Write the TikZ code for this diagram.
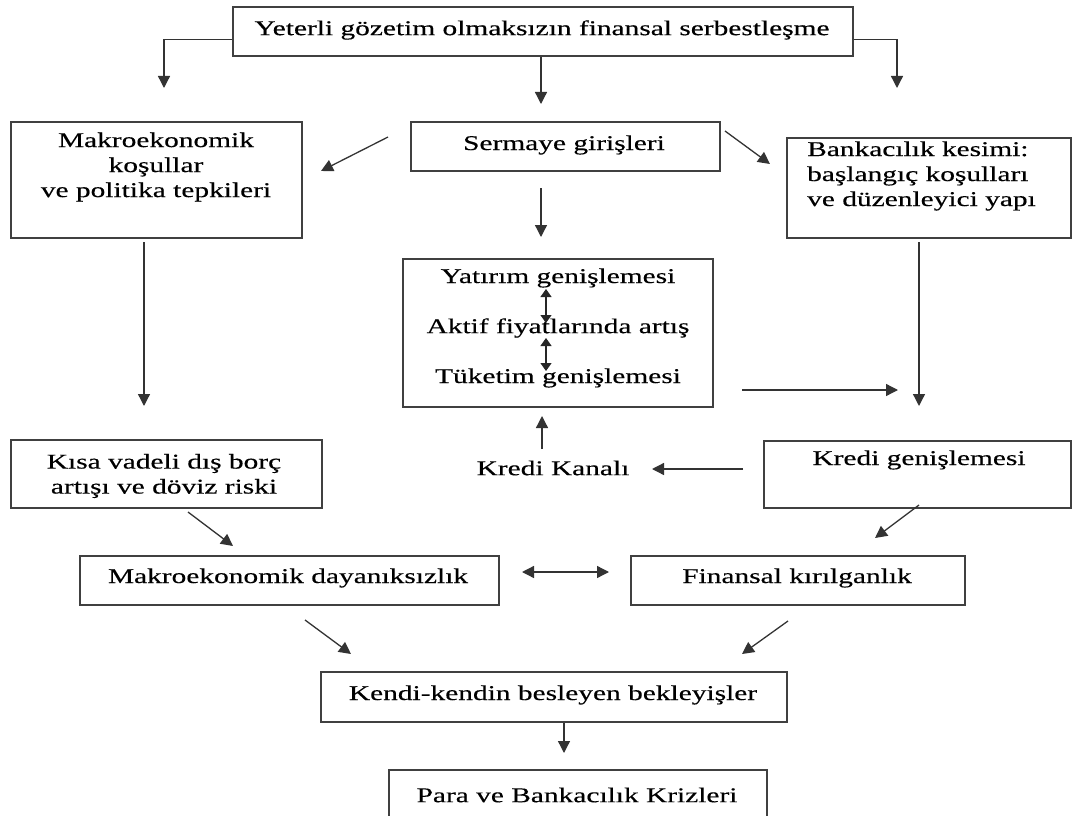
\documentclass[tikz,border=0pt]{standalone}
\usepackage{fontspec}
\setmainfont[FakeStretch=1.4,FakeBold=0.35]{Liberation Serif}
\usetikzlibrary{arrows.meta}
\begin{document}
\begin{tikzpicture}[x=1pt,y=-1pt,
  box/.style={draw=black!75, line width=1.6pt, inner sep=0pt, anchor=north west},
  txt/.style={inner sep=0pt, align=center, text=black, font=\fontsize{21}{25}\selectfont},
  arr/.style={draw=black!80, line width=1.3pt, -{Triangle[length=12pt,width=12pt]}},
  darr/.style={draw=black!80, line width=1.3pt, {Triangle[length=12pt,width=12pt]}-{Triangle[length=12pt,width=12pt]}},
  sarr/.style={draw=black!85, line width=1.3pt, {Triangle[length=8pt,width=11pt]}-{Triangle[length=8pt,width=11pt]}}]
\useasboundingbox (0,0) rectangle (1072,816);
\clip (0,0) rectangle (1072,816);
% boxes
\node[box, minimum width=620pt, minimum height=49pt] (top) at (232,6) {};
\node[box, minimum width=291pt, minimum height=116pt] (makro) at (10,121) {};
\node[box, minimum width=309pt, minimum height=49pt] (serm) at (410,121) {};
\node[box, minimum width=284pt, minimum height=100pt] (bank) at (786,137) {};
\node[box, minimum width=310pt, minimum height=148pt] (yat) at (402,258) {};
\node[box, minimum width=311pt, minimum height=68pt] (kisa) at (10,439) {};
\node[box, minimum width=307pt, minimum height=67pt] (kgen) at (763,440) {};
\node[box, minimum width=419pt, minimum height=49pt] (dayan) at (79,555) {};
\node[box, minimum width=334pt, minimum height=49pt] (fin) at (630,555) {};
\node[box, minimum width=466pt, minimum height=50pt] (kendi) at (320,671) {};
\node[box, minimum width=378pt, minimum height=70pt] (para) at (388,769) {};
% texts
\node[txt] (ttop) at (542,30) {Yeterli gözetim olmaksızın finansal serbestleşme};
\node[txt] (tmakro) at (156,167) {Makroekonomik\\koşullar\\ve politika tepkileri};
\node[txt] (tserm) at (564,145) {Sermaye girişleri};
\node[txt, align=left, anchor=west] (tbank) at (807,176) {Bankacılık kesimi:\\başlangıç koşulları\\ve düzenleyici yapı};
\node[txt] (ty1) at (558,278) {Yatırım genişlemesi};
\node[txt] (ty2) at (558,328) {Aktif fiyatlarında artış};
\node[txt] (ty3) at (558,378) {Tüketim genişlemesi};
\node[txt] (tkisa) at (164,476) {Kısa vadeli dış borç\\artışı ve döviz riski};
\node[txt] (kanal) at (553,468) {Kredi Kanalı};
\node[txt] (tkgen) at (919,460) {Kredi genişlemesi};
\node[txt] (tdayan) at (288,578) {Makroekonomik dayanıksızlık};
\node[txt] (tfin) at (797,578) {Finansal kırılganlık};
\node[txt] (tkendi) at (553,695) {Kendi-kendin besleyen bekleyişler};
\node[txt] (tpara) at (577,795) {Para ve Bankacılık Krizleri};
% connector end points
\coordinate (tl) at (164,88);
\coordinate (tc) at (541,104);
\coordinate (tr) at (897,88);
\coordinate (smA) at (388,137); \coordinate (smB) at (321,171);
\coordinate (sbA) at (725,131); \coordinate (sbB) at (770,164);
\coordinate (syA) at (541,188); \coordinate (syB) at (541,237);
\coordinate (mdA) at (144,242); \coordinate (mdB) at (144,406);
\coordinate (bdA) at (919,242); \coordinate (bdB) at (919,406);
\coordinate (yrA) at (742,390); \coordinate (yrB) at (898,390);
\coordinate (kkA) at (743,469); \coordinate (kkB) at (652,469);
\coordinate (kuA) at (542,449); \coordinate (kuB) at (542,416);
\coordinate (i1A) at (546,289); \coordinate (i1B) at (546,323);
\coordinate (i2A) at (546,338); \coordinate (i2B) at (546,371);
\coordinate (kdA) at (188,512); \coordinate (kdB) at (233,546);
\coordinate (gfA) at (919,505); \coordinate (gfB) at (875,538);
\coordinate (dfA) at (522,572); \coordinate (dfB) at (609,572);
\coordinate (dkA) at (305,620); \coordinate (dkB) at (351,654);
\coordinate (fkA) at (788,621); \coordinate (fkB) at (742,654);
\coordinate (kpB) at (564,753);
% connectors
\draw[arr] ([yshift=-8.5pt]top.west) -| (tl);
\draw[arr] (top.south -| tc) -- (tc);
\draw[arr] ([yshift=-8.5pt]top.east) -| (tr);
\draw[arr] (smA) -- (smB);
\draw[arr] (sbA) -- (sbB);
\draw[arr] (syA) -- (syB);
\draw[arr] (mdA) -- (mdB);
\draw[arr] (bdA) -- (bdB);
\draw[arr] (yrA) -- (yrB);
\draw[arr] (kkA) -- (kkB);
\draw[arr] (kuA) -- (kuB);
\draw[sarr] (i1A) -- (i1B);
\draw[sarr] (i2A) -- (i2B);
\draw[arr] (kdA) -- (kdB);
\draw[arr] (gfA) -- (gfB);
\draw[darr] (dfA) -- (dfB);
\draw[arr] (dkA) -- (dkB);
\draw[arr] (fkA) -- (fkB);
\draw[arr] (kendi.south -| kpB) -- (kpB);
\end{tikzpicture}
\end{document}
